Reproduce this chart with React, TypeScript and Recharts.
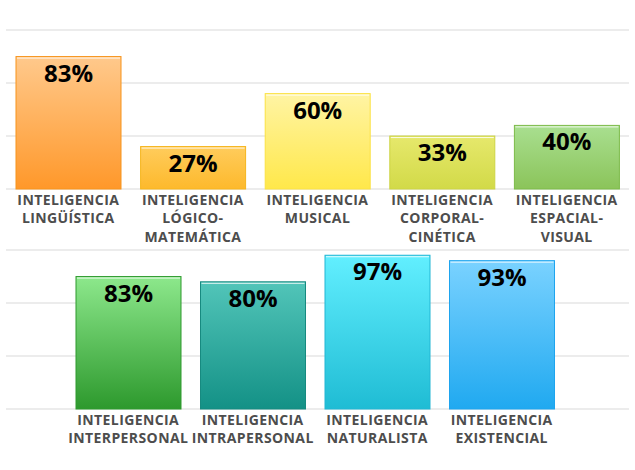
import React from "react";
import { BarChart, Bar, XAxis, YAxis, CartesianGrid, Cell, LabelList } from "recharts";

// fila superior
const topCategories = [
  "INTELIGENCIA\nLINGÜÍSTICA",
  "INTELIGENCIA\nLÓGICO-\nMATEMÁTICA",
  "INTELIGENCIA\nMUSICAL",
  "INTELIGENCIA\nCORPORAL-\nCINÉTICA",
  "INTELIGENCIA\nESPACIAL-\nVISUAL",
];
const topValues = [83.3, 26.7, 60, 33.3, 40];
const topLabels = ["83%", "27%", "60%", "33%", "40%"];
const topColors = [
  { top: "#ffc98c", bottom: "#ff982a", stroke: "#f7941d" },
  { top: "#ffcc5c", bottom: "#fdb92c", stroke: "#f6b51e" },
  { top: "#fff4a4", bottom: "#ffe84a", stroke: "#fbe244" },
  { top: "#e6e86c", bottom: "#d2da48", stroke: "#cdd444" },
  { top: "#a9df90", bottom: "#8bc45a", stroke: "#7dbb4a" },
];

// fila inferior
const bottomCategories = [
  "INTELIGENCIA\nINTERPERSONAL",
  "INTELIGENCIA\nINTRAPERSONAL",
  "INTELIGENCIA\nNATURALISTA",
  "INTELIGENCIA\nEXISTENCIAL",
];
const bottomValues = [83.3, 80, 96.7, 93.3];
const bottomLabels = ["83%", "80%", "97%", "93%"];
const bottomColors = [
  { top: "#8de88c", bottom: "#2d992d", stroke: "#2e9a2e" },
  { top: "#52c5b9", bottom: "#139186", stroke: "#178a80" },
  { top: "#62efff", bottom: "#1fbcd4", stroke: "#22b6d4" },
  { top: "#7ad2ff", bottom: "#20a9f0", stroke: "#1ea4ee" },
];

const gridTicks = [0, 33.33, 66.67, 100];

const FONT = "'Open Sans', sans-serif";

function MultiLineTick(props: any) {
  const { x, y, payload } = props;
  const lines = String(payload.value).split("\n");
  return (
    <text
      x={x}
      y={y}
      textAnchor="middle"
      fill="#4d4d4d"
      fontFamily={FONT}
      fontWeight={700}
      fontSize={14}
      letterSpacing={0.4}
    >
      {lines.map((l, i) => (
        <tspan key={i} x={x} dy={i === 0 ? 7.5 : 18.5}>
          {l}
        </tspan>
      ))}
    </text>
  );
}

function BevelBar(props: any) {
  const { x, y, width, height, fill, stroke } = props;
  if (!height || height <= 0) return null;
  return (
    <g>
      <rect x={x} y={y} width={width} height={height} fill={fill} stroke={stroke} strokeWidth={1} />
      <line x1={x + 1} x2={x + width - 1} y1={y + 1.5} y2={y + 1.5} stroke="#ffffff" strokeOpacity={0.85} />
    </g>
  );
}

function Row({
  id,
  categories,
  values,
  labels,
  colors,
  padLeft,
  padRight,
}: {
  id: string;
  categories: string[];
  values: number[];
  labels: string[];
  colors: { top: string; bottom: string; stroke: string }[];
  padLeft: number;
  padRight: number;
}) {
  const data = categories.map((name, i) => ({ name, value: values[i], label: labels[i] }));
  return (
    <BarChart width={635} height={260} data={data} margin={{ top: 30, right: 6, bottom: 0, left: 6 }}>
      <defs>
        {colors.map((c, i) => (
          <linearGradient key={i} id={`${id}-g${i}`} x1="0" y1="0" x2="0" y2="1">
            <stop offset="0%" stopColor={c.top} />
            <stop offset="100%" stopColor={c.bottom} />
          </linearGradient>
        ))}
      </defs>
      <CartesianGrid vertical={false} stroke="#e6e6e6" strokeWidth={1.5} />
      <XAxis
        dataKey="name"
        axisLine={false}
        tickLine={false}
        interval={0}
        height={71}
        padding={{ left: padLeft, right: padRight }}
        tick={<MultiLineTick />}
      />
      <YAxis hide domain={[0, 100]} ticks={gridTicks} />
      <Bar dataKey="value" barSize={105} isAnimationActive={false} shape={<BevelBar />}>
        {colors.map((c, i) => (
          <Cell key={i} fill={`url(#${id}-g${i})`} stroke={c.stroke} />
        ))}
        <LabelList
          dataKey="label"
          position="insideTop"
          offset={8}
          fill="#000000"
          fontFamily={FONT}
          fontWeight={700}
          fontSize={24}
        />
      </Bar>
    </BarChart>
  );
}

export default function App() {
  return (
    <div style={{ position: "relative", width: 635, height: 470, background: "#ffffff", overflow: "hidden" }}>
      <style>{`body{margin:0;}`}</style>
      <div style={{ position: "absolute", left: 0, top: 0 }}>
        <Row
          id="top"
          categories={topCategories}
          values={topValues}
          labels={topLabels}
          colors={topColors}
          padLeft={0}
          padRight={0}
        />
      </div>
      <div style={{ position: "absolute", left: 0, top: 220 }}>
        <Row
          id="bot"
          categories={bottomCategories}
          values={bottomValues}
          labels={bottomLabels}
          colors={bottomColors}
          padLeft={60}
          padRight={65}
        />
      </div>
    </div>
  );
}
